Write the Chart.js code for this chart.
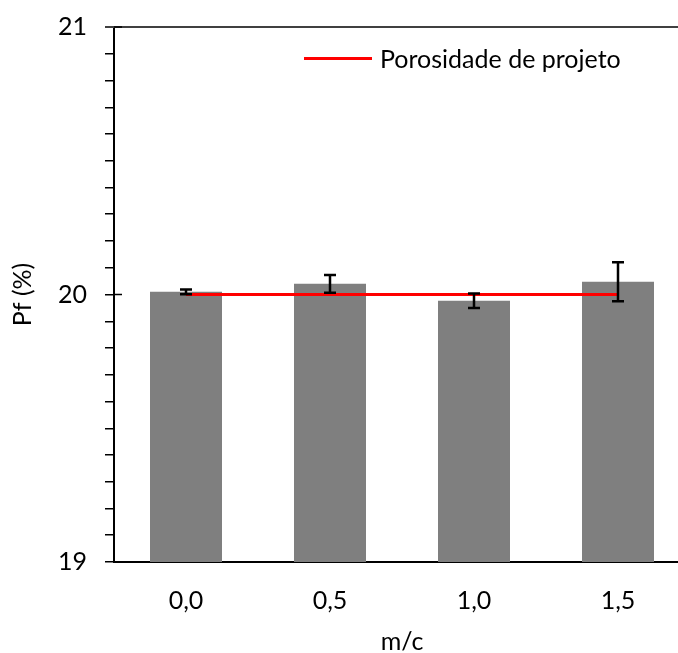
<!DOCTYPE html>
<html>
<head>
<meta charset="utf-8">
<script src="https://cdn.jsdelivr.net/npm/chart.js@4"></script>
<style>
  html, body { margin: 0; padding: 0; background: #fff; overflow: hidden; }
  #wrap { position: relative; width: 700px; height: 653px; }
  #legend { position: absolute; left: 304px; top: 43px; display: flex; align-items: center;
            font-family: Lato, sans-serif; font-size: 25px; color: #000; }
  #legend .swatch { width: 68px; height: 3px; background: #ff0000; margin-right: 8px; }
</style>
</head>
<body>
<div id="wrap">
  <canvas id="chart"></canvas>
  <div id="legend"><span class="swatch"></span><span>Porosidade de projeto</span></div>
</div>
<script>
// Data
const categories = ["0,0", "0,5", "1,0", "1,5"];
const porosity = [20.01, 20.04, 19.977, 20.048];
const porosityErr = [0.009, 0.033, 0.027, 0.073];
const designPorosity = [20, 20, 20, 20];
const yMajorTicks = [19, 20, 21];

const FONT = "Lato";
const FSIZE = 25;

// Error bars, top frame line and inner major ticks
const extras = {
  id: "extras",
  afterDraw(chart) {
    const ctx = chart.ctx;
    const y = chart.scales.y;
    const area = chart.chartArea;
    ctx.save();

    // top frame
    ctx.strokeStyle = "#404040";
    ctx.lineWidth = 2;
    ctx.beginPath();
    ctx.moveTo(area.left - 9, area.top);
    ctx.lineTo(area.right, area.top);
    ctx.stroke();

    // major ticks crossing into the plot
    ctx.strokeStyle = "#000";
    ctx.lineWidth = 1.5;
    yMajorTicks.forEach((v) => {
      const py = y.getPixelForValue(v);
      ctx.beginPath();
      ctx.moveTo(area.left, py);
      ctx.lineTo(area.left + 8, py);
      ctx.stroke();
    });

    // error bars
    const meta = chart.getDatasetMeta(0);
    ctx.lineWidth = 2.5;
    meta.data.forEach((bar, i) => {
      const top = y.getPixelForValue(porosity[i] + porosityErr[i]);
      const bot = y.getPixelForValue(porosity[i] - porosityErr[i]);
      const x = bar.x;
      ctx.beginPath();
      ctx.moveTo(x, top);
      ctx.lineTo(x, bot);
      ctx.moveTo(x - 6, top);
      ctx.lineTo(x + 6, top);
      ctx.moveTo(x - 6, bot);
      ctx.lineTo(x + 6, bot);
      ctx.stroke();
    });
    ctx.restore();
  },
};

new Chart(document.getElementById("chart"), {
  type: "bar",
  data: {
    labels: categories,
    datasets: [
      {
        label: "Pf",
        data: porosity,
        backgroundColor: "#7f7f7f",
        borderWidth: 0,
        categoryPercentage: 1,
        barPercentage: 0.5,
        order: 2,
      },
      {
        type: "line",
        label: "Porosidade de projeto",
        data: designPorosity,
        borderColor: "#ff0000",
        borderWidth: 3,
        pointRadius: 0,
        fill: false,
        order: 1,
      },
    ],
  },
  options: {
    responsive: true,
    maintainAspectRatio: false,
    animation: false,
    layout: { padding: { top: 27, left: 0, right: 10, bottom: 0 } },
    plugins: {
      legend: { display: false },
      tooltip: { enabled: false },
    },
    scales: {
      x: {
        grid: { display: true, drawOnChartArea: false, drawTicks: false },
        border: { display: true, color: "#000", width: 2 },
        ticks: {
          color: "#000",
          padding: 24,
          font: { family: FONT, size: FSIZE },
        },
        title: {
          display: true,
          text: "m/c",
          color: "#000",
          padding: { top: 0, bottom: -4 },
          font: { family: FONT, size: FSIZE },
        },
        afterFit: (scale) => {
          scale.height = 91;
          scale.paddingLeft = 0;
          scale.paddingRight = 0;
        },
      },
      y: {
        min: 19,
        max: 21,
        ticks: {
          stepSize: 0.1,
          autoSkip: false,
          color: "#000",
          padding: 18,
          font: { family: FONT, size: FSIZE },
          callback: (v) =>
            Math.abs(v - Math.round(v)) < 1e-6 ? String(Math.round(v)) : "",
        },
        grid: {
          drawOnChartArea: false,
          tickLength: 9,
          color: "#000",
          lineWidth: 1.5,
        },
        border: { display: true, color: "#000", width: 2 },
        title: {
          display: true,
          text: "Pf (%)",
          color: "#000",
          padding: { top: 8, bottom: 0 },
          font: { family: FONT, size: FSIZE },
        },
        afterFit: (scale) => {
          scale.width = 114;
          scale.paddingTop = 0;
          scale.paddingBottom = 0;
        },
      },
    },
  },
  plugins: [extras],
});
</script>
</body>
</html>
